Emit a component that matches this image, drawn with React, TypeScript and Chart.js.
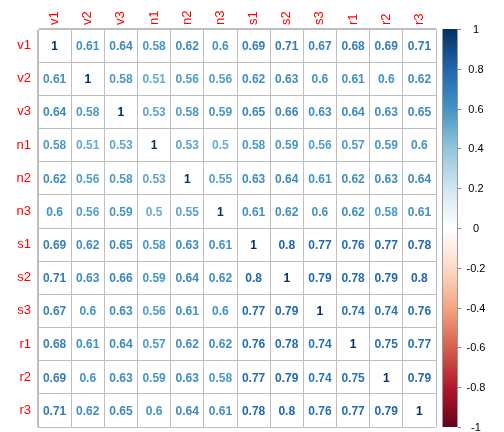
import React, { useEffect, useRef } from "react";
import { Chart, registerables } from "chart.js";

Chart.register(...registerables);

const varLabels = ["v1", "v2", "v3", "n1", "n2", "n3", "s1", "s2", "s3", "r1", "r2", "r3"];

const rowV1 = [1, 0.61, 0.64, 0.58, 0.62, 0.6, 0.69, 0.71, 0.67, 0.68, 0.69, 0.71];
const rowV2 = [0.61, 1, 0.58, 0.51, 0.56, 0.56, 0.62, 0.63, 0.6, 0.61, 0.6, 0.62];
const rowV3 = [0.64, 0.58, 1, 0.53, 0.58, 0.59, 0.65, 0.66, 0.63, 0.64, 0.63, 0.65];
const rowN1 = [0.58, 0.51, 0.53, 1, 0.53, 0.5, 0.58, 0.59, 0.56, 0.57, 0.59, 0.6];
const rowN2 = [0.62, 0.56, 0.58, 0.53, 1, 0.55, 0.63, 0.64, 0.61, 0.62, 0.63, 0.64];
const rowN3 = [0.6, 0.56, 0.59, 0.5, 0.55, 1, 0.61, 0.62, 0.6, 0.62, 0.58, 0.61];
const rowS1 = [0.69, 0.62, 0.65, 0.58, 0.63, 0.61, 1, 0.8, 0.77, 0.76, 0.77, 0.78];
const rowS2 = [0.71, 0.63, 0.66, 0.59, 0.64, 0.62, 0.8, 1, 0.79, 0.78, 0.79, 0.8];
const rowS3 = [0.67, 0.6, 0.63, 0.56, 0.61, 0.6, 0.77, 0.79, 1, 0.74, 0.74, 0.76];
const rowR1 = [0.68, 0.61, 0.64, 0.57, 0.62, 0.62, 0.76, 0.78, 0.74, 1, 0.75, 0.77];
const rowR2 = [0.69, 0.6, 0.63, 0.59, 0.63, 0.58, 0.77, 0.79, 0.74, 0.75, 1, 0.79];
const rowR3 = [0.71, 0.62, 0.65, 0.6, 0.64, 0.61, 0.78, 0.8, 0.76, 0.77, 0.79, 1];

const corrRows = [rowV1, rowV2, rowV3, rowN1, rowN2, rowN3, rowS1, rowS2, rowS3, rowR1, rowR2, rowR3];

const legendTicks = [-1, -0.8, -0.6, -0.4, -0.2, 0, 0.2, 0.4, 0.6, 0.8, 1];

const paletteStops = [
  "#67001F", "#B2182B", "#D6604D", "#F4A582", "#FDDBC7", "#FFFFFF",
  "#D1E5F0", "#92C5DE", "#4393C3", "#2166AC", "#053061",
];

function hexToRgb(h: string) {
  const n = parseInt(h.slice(1), 16);
  return [(n >> 16) & 255, (n >> 8) & 255, n & 255];
}

function colorFor(v: number) {
  const t = ((v + 1) / 2) * (paletteStops.length - 1);
  const i = Math.max(0, Math.min(paletteStops.length - 2, Math.floor(t)));
  const f = t - i;
  const a = hexToRgb(paletteStops[i]);
  const b = hexToRgb(paletteStops[i + 1]);
  const c = a.map((x, k) => Math.round(x + (b[k] - x) * f));
  return `rgb(${c[0]},${c[1]},${c[2]})`;
}

const FONT = '"Liberation Sans", Arial, Helvetica, sans-serif';

const corrPlugin = {
  id: "corrPlugin",
  afterDatasetsDraw(chart: any) {
    const ctx = chart.ctx;
    const xs = chart.scales.x;
    const ys = chart.scales.y;
    const cb = chart.scales.cb;
    const meta = chart.getDatasetMeta(0);
    const data = chart.data.datasets[0].data;
    ctx.save();

    // cell numbers
    ctx.font = `bold 12px ${FONT}`;
    ctx.textAlign = "center";
    ctx.textBaseline = "middle";
    meta.data.forEach((el: any, i: number) => {
      const v = data[i].v;
      ctx.fillStyle = colorFor(v);
      ctx.fillText(String(v), el.x, el.y + 1);
    });

    // row labels
    ctx.font = `13px ${FONT}`;
    ctx.fillStyle = "#FF0000";
    ctx.textAlign = "right";
    varLabels.forEach((lab, i) => {
      ctx.fillText(lab, xs.left - 7, ys.getPixelForValue(i));
    });

    // column labels (rotated)
    ctx.textAlign = "left";
    varLabels.forEach((lab, i) => {
      ctx.save();
      ctx.translate(xs.getPixelForValue(i), ys.top - 4);
      ctx.rotate(-Math.PI / 2);
      ctx.fillText(lab, 0, 0);
      ctx.restore();
    });

    // colour legend
    const top = cb.getPixelForValue(1);
    const bottom = cb.getPixelForValue(-1);
    const x0 = xs.right + 6;
    const x1 = xs.right + 22;
    const grad = ctx.createLinearGradient(0, bottom, 0, top);
    paletteStops.forEach((c, i) => grad.addColorStop(i / (paletteStops.length - 1), c));
    ctx.fillStyle = grad;
    ctx.fillRect(x0, top, x1 - x0, bottom - top);
    ctx.strokeStyle = "#9a9a9a";
    ctx.lineWidth = 1;
    ctx.beginPath();
    ctx.moveTo(x0 + 0.5, top);
    ctx.lineTo(x0 + 0.5, bottom);
    ctx.moveTo(x1 - 0.5, top);
    ctx.lineTo(x1 - 0.5, bottom);
    ctx.stroke();

    ctx.font = `11px ${FONT}`;
    ctx.fillStyle = "#000000";
    ctx.textAlign = "center";
    ctx.strokeStyle = "#808080";
    legendTicks.forEach((t) => {
      const y = Math.round(cb.getPixelForValue(t)) + 0.5;
      ctx.beginPath();
      ctx.moveTo(x1, y);
      ctx.lineTo(x1 + 3, y);
      ctx.stroke();
      ctx.fillText(String(t), x1 + 18, y);
    });

    ctx.restore();
  },
};

export default function App() {
  const ref = useRef<HTMLCanvasElement | null>(null);
  useEffect(() => {
    if (!ref.current) return;
    const points: any[] = [];
    corrRows.forEach((row, r) => {
      row.forEach((v, c) => {
        points.push({ x: varLabels[c], y: varLabels[r], v });
      });
    });
    const chart = new Chart(ref.current, {
      type: "scatter",
      data: {
        datasets: [{ data: points, pointRadius: 0, pointHoverRadius: 0 }],
      },
      options: {
        responsive: false,
        animation: false,
        devicePixelRatio: 1,
        events: [],
        layout: { padding: { left: 38, top: 29, right: 68, bottom: 5 } },
        plugins: { legend: { display: false }, tooltip: { enabled: false } },
        scales: {
          x: {
            type: "category",
            labels: varLabels,
            position: "top",
            offset: true,
            grid: { offset: true, color: "#BEBEBE", lineWidth: 1, drawTicks: false },
            border: { display: true, color: "#BEBEBE", width: 1 },
            ticks: { display: false },
          },
          y: {
            type: "category",
            labels: varLabels,
            position: "left",
            offset: true,
            grid: { offset: true, color: "#BEBEBE", lineWidth: 1, drawTicks: false },
            border: { display: true, color: "#BEBEBE", width: 1 },
            ticks: { display: false },
          },
          cb: {
            type: "linear",
            position: "right",
            display: false,
            min: -1,
            max: 1,
          },
        },
      } as any,
      plugins: [corrPlugin],
    });
    return () => chart.destroy();
  }, []);
  return (
    <div style={{ position: "fixed", left: 0, top: 0, width: 504, height: 432, background: "#fff" }}>
      <canvas ref={ref} width={504} height={432} style={{ display: "block" }} />
    </div>
  );
}
